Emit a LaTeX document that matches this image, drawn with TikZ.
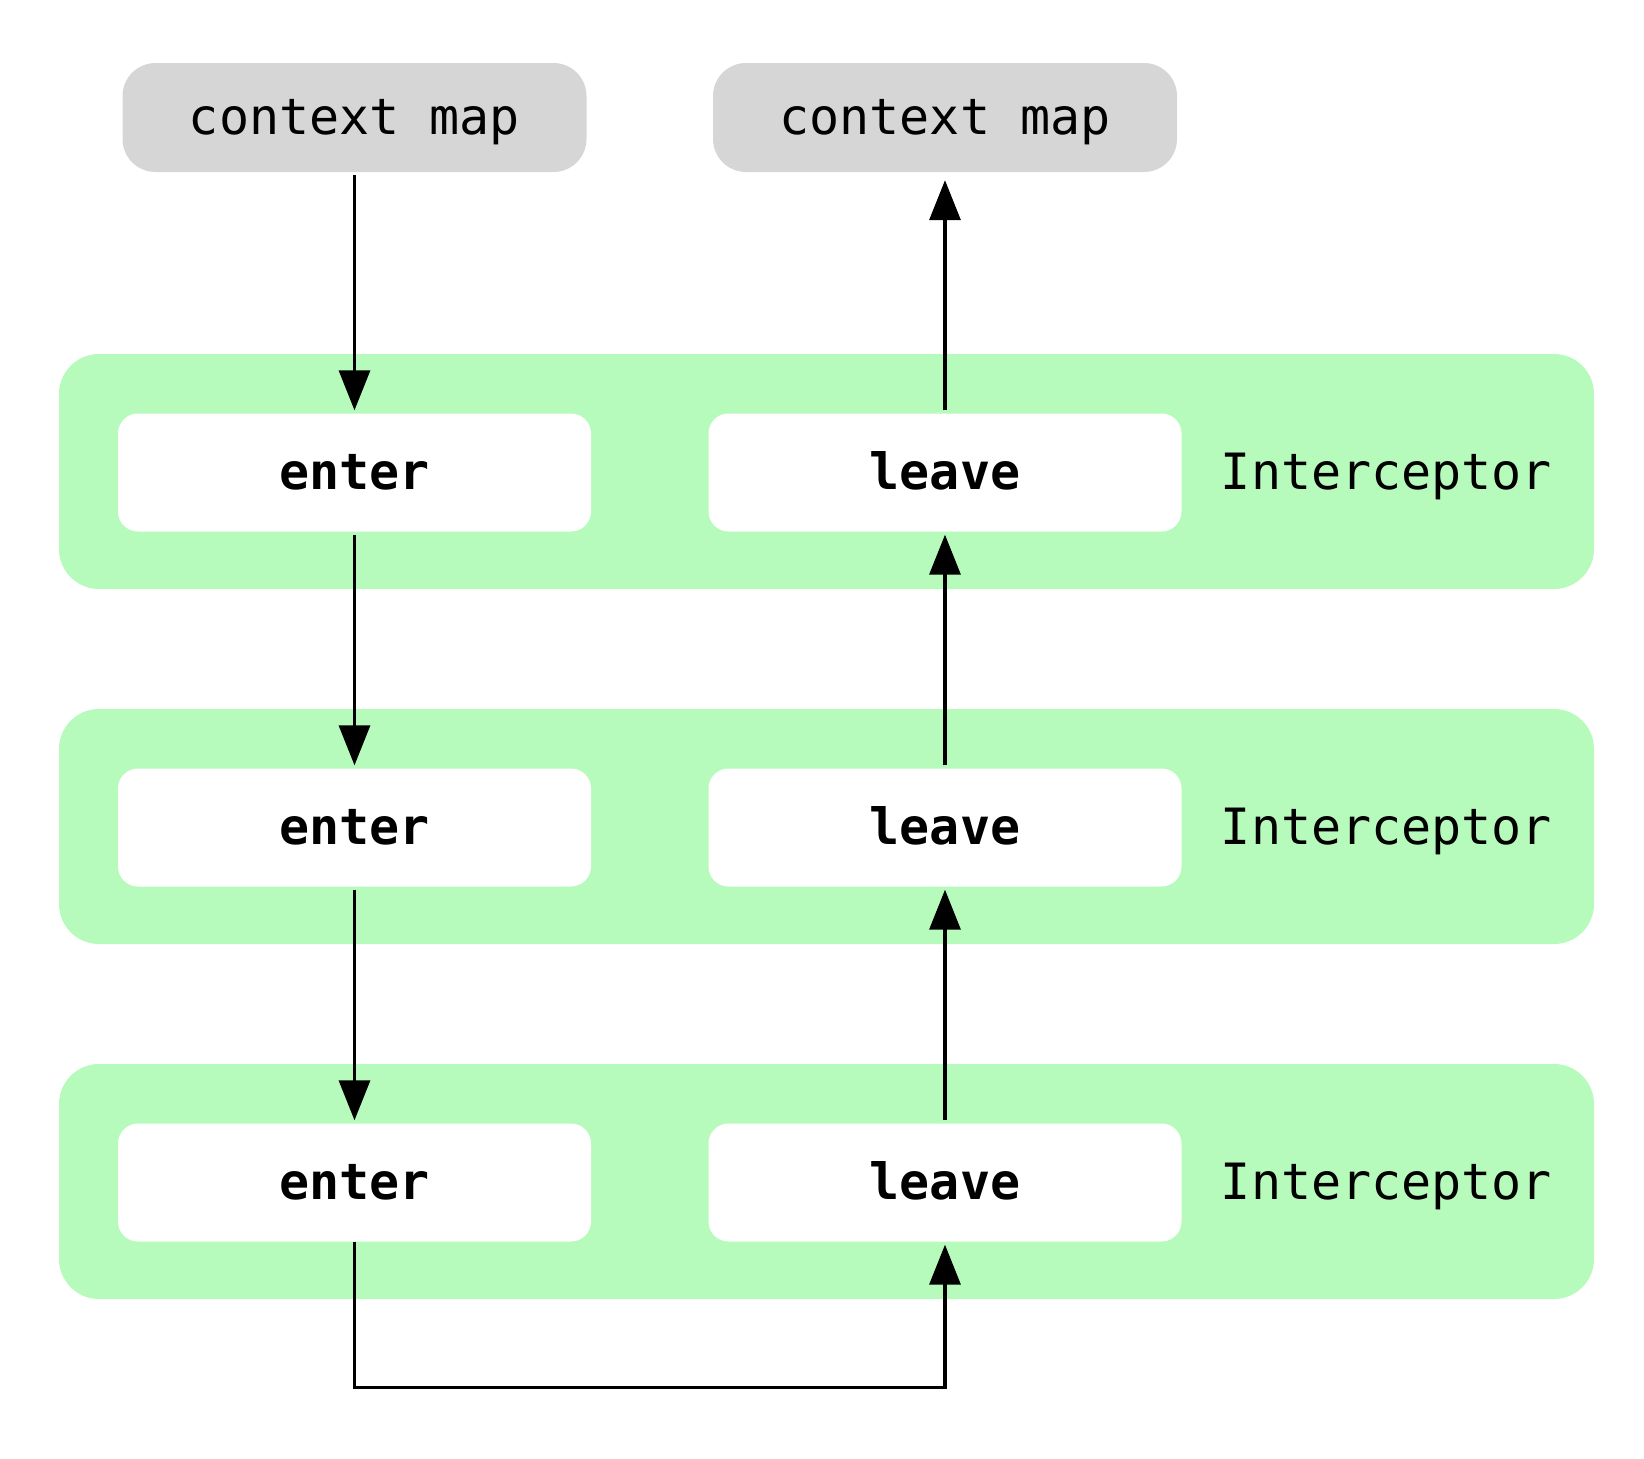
\documentclass[tikz,border=0pt]{standalone}
\usepackage{fontspec}
\usetikzlibrary{arrows.meta,positioning}
\newfontfamily\mono{DejaVu Sans Mono}
\definecolor{bandgreen}{RGB}{183,251,188}
\definecolor{ctxgray}{RGB}{214,214,214}
\begin{document}
\begin{tikzpicture}[auto, node distance=355pt, x=1pt, y=1pt,
                    every node/.style={text height=36pt, text depth=2pt, font=\mono\fontsize{50}{60}\selectfont},
                    band node/.style={rectangle,rounded corners=40pt,fill=bandgreen,minimum width=1535pt,minimum height=235pt},
                    ctx node/.style={rectangle,rounded corners=33pt,fill=ctxgray,minimum width=464pt,minimum height=109pt},
                    hook node/.style={rectangle,rounded corners=20pt,fill=white,minimum width=473pt,minimum height=118pt,
                                      font=\mono\bfseries\fontsize{50}{60}\selectfont},
                    flow/.style={line width=3.3pt,shorten >=3pt,shorten <=3pt,-{Triangle[length=40pt,width=31pt]}}]

\useasboundingbox (0,0) rectangle (1644,-1459);

\node[band node] (b1) at (826.5,-471.5) {};
  \node[band node] (b2) [below of=b1] {};
    \node[band node] (b3) [below of=b2] {};

\node[ctx node] (1) at (354.5,-117.5) {context map};
  \node[ctx node] (2) [right of=1, node distance=590.5pt] {context map};
\node[hook node] (3) [below of=1] {enter};
  \node[hook node] (4) [right of=3, node distance=590.5pt] {leave};
    \node (5) [right of=4, node distance=441.5pt] {Interceptor};
\node[hook node] (6) [below of=3] {enter};
  \node[hook node] (7) [right of=6, node distance=590.5pt] {leave};
    \node (8) [right of=7, node distance=441.5pt] {Interceptor};
\node[hook node] (9) [below of=6] {enter};
  \node[hook node] (10) [right of=9, node distance=590.5pt] {leave};
    \node (11) [right of=10, node distance=441.5pt] {Interceptor};

\draw[flow] (1) -- (3);
\draw[flow] (3) -- (6);
\draw[flow] (6) -- (9);
\draw[flow,shorten <=0pt] (9.south) -- ++(0,-146) -| (10);
\draw[flow] (10) -- (7);
\draw[flow] (7) -- (4);
\draw[flow,shorten >=8pt] (4) -- (2);

\end{tikzpicture}
\end{document}
